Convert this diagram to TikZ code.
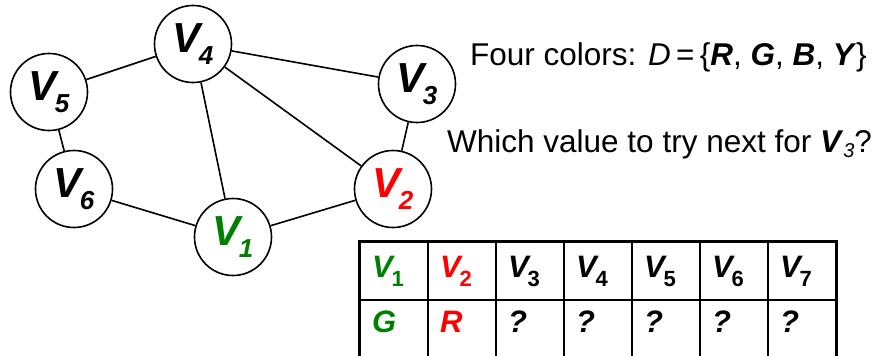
\documentclass[tikz,border=0pt]{standalone}
\usepackage{fontspec}
\setmainfont{Liberation Sans}
\usepackage{xcolor}
\usetikzlibrary{positioning,calc}
\definecolor{vgreen}{RGB}{0,128,0}
\definecolor{vred}{RGB}{255,0,0}
\newcommand{\vnode}[1]{{\fontsize{42}{42}\selectfont\bfseries\itshape V}\kern-2pt\raisebox{-12pt}{\fontsize{26}{26}\selectfont\bfseries\itshape #1}}
\newcommand{\tvar}[1]{{\bfseries\itshape V}\kern-1pt\raisebox{-9pt}{\fontsize{22}{22}\selectfont\bfseries #1}}
\tikzset{
  vertex/.style={circle,draw,line width=1.6pt,minimum size=77pt,inner sep=0pt,fill=white},
  edge/.style={line width=1.6pt,draw=black},
  cell/.style={draw,line width=1.3pt,minimum height=58pt,text width=44pt,inner xsep=12pt,align=left,
    font=\fontsize{31}{31}\selectfont},
  frame/.style={line width=3pt,draw=black},
  caption/.style={anchor=base west,inner sep=0pt,font=\fontsize{31.5}{32}\selectfont}
}

\begin{document}
\begin{tikzpicture}[x=1pt,y=-1pt]
    \useasboundingbox (0,0) rectangle (876,356);
    % graph
    \node[vertex] (v4) at (193,44) {\vnode{4}};
    \node[vertex] (v5) at (49,92) {\vnode{5}};
    \node[vertex] (v6) at (74,189) {\vnode{6}};
    \node[vertex] (v1) at (233,237) {\color{vgreen}\vnode{1}};
    \node[vertex] (v2) at (393,189) {\color{vred}\vnode{2}};
    \node[vertex] (v3) at (417,84) {\vnode{3}};
    \draw[edge] (v5) -- (v4);
    \draw[edge] (v4) -- (v3);
    \draw[edge] (v4) -- (v1);
    \draw[edge] (v4) -- (v2);
    \draw[edge] (v3) -- (v2);
    \draw[edge] (v5) -- (v6);
    \draw[edge] (v6) -- (v1);
    \draw[edge] (v1) -- (v2);
    % texts
    \node[caption] (domain) at (470,65) {Four colors: \textit{D}\,=\,\{\textbf{\textit{R}}, \textbf{\textit{G}}, \textbf{\textit{B}}, \textbf{\textit{Y}}\}};
    \node[caption] (question) at (447,152) {Which value to try next for \textbf{\textit{V}}\raisebox{-5pt}{\fontsize{20}{20}\selectfont\itshape 3}?};
    % table
    \foreach \n/\val [count=\k] in {{\color{vgreen}\tvar{1}}/{\color{vgreen}\textbf{\textit{G}}},
        {\color{vred}\tvar{2}}/{\color{vred}\textbf{\textit{R}}},
        \tvar{3}/\textbf{\textit{?}},\tvar{4}/\textbf{\textit{?}},\tvar{5}/\textbf{\textit{?}},
        \tvar{6}/\textbf{\textit{?}},\tvar{7}/\textbf{\textit{?}}}{
      \node[cell] (h\k) at (326+68*\k,271) {\n};
      \node[cell,text depth=14pt] (r\k) at (326+68*\k,329) {\val};
    }
    \draw[frame] (r1.south west) -- (h1.north west) -- (h7.north east) -- (r7.south east);
  \end{tikzpicture}
\end{document}
